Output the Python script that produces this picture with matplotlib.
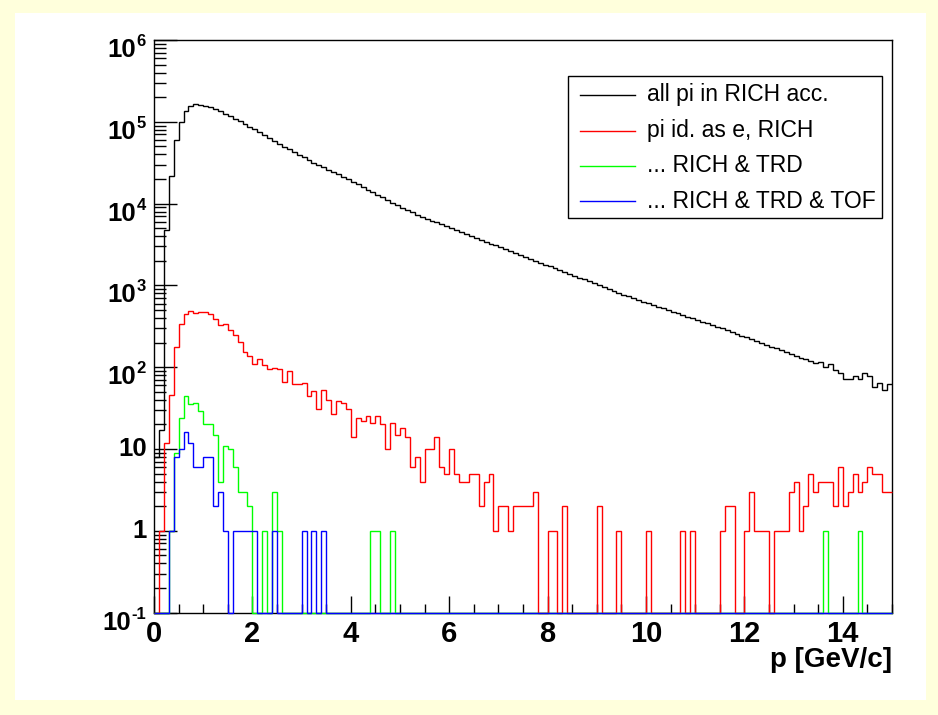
import numpy as np
import matplotlib
matplotlib.use("Agg")
import matplotlib.pyplot as plt
from matplotlib.patches import Rectangle
from matplotlib.lines import Line2D
from matplotlib.ticker import FixedLocator, NullFormatter, LogLocator

plt.rcParams['font.family'] = ['Liberation Sans', 'DejaVu Sans']

# ---------------- data (150 bins, 0 .. 15 GeV/c) ----------------
p_min, p_max, n_bins = 0.0, 15.0, 150

all_pi = [
    8, 17, 4750, 21700, 60000, 100000, 137000, 156000, 164000, 162000,
    157000, 150000, 142000, 134000, 125600, 117400, 109400, 101700, 94500, 87600,
    81000, 74800, 69000, 63600, 58600, 54000, 49750, 45860, 42380, 39280,
    36610, 34120, 31800, 29730, 27790, 25970, 24280, 22690, 21270, 19930,
    18520, 17210, 16000, 14870, 13820, 12850, 11940, 11100, 10310, 9590,
    8940, 8330, 7790, 7280, 6900, 6540, 6200, 5875, 5553, 5263,
    4989, 4729, 4482, 4249, 4028, 3818, 3620, 3430, 3252, 3083,
    2922, 2770, 2618, 2482, 2353, 2230, 2114, 2004, 1894, 1796,
    1708, 1618, 1534, 1458, 1382, 1310, 1245, 1181, 1119, 1064,
    1009, 956, 909, 861, 817, 774, 734, 696, 663, 634,
    604, 576, 551, 525, 500, 478, 456, 435, 416, 396,
    378, 361, 344, 328, 313, 299, 284, 269, 256, 243,
    231, 219, 208, 198, 188, 179, 170, 161, 153, 145,
    138, 131, 125, 118, 112, 115, 101, 108, 92, 84,
    72, 71, 77, 71, 84, 77, 58, 65, 53, 62,
]

pi_as_e_rich = [
    0, 1, 12, 46, 175, 334, 443, 491, 460, 477,
    469, 443, 385, 328, 340, 285, 245, 205, 153, 137,
    109, 125, 105, 94, 97, 94, 66, 90, 62, 62,
    65, 44, 51, 31, 53, 40, 27, 39, 36, 31,
    14, 24, 22, 25, 21, 25, 20, 10, 21, 15,
    18, 14, 6, 8, 4, 10, 10, 14, 6, 5,
    10, 5, 4, 4, 5, 5, 2, 4, 5, 1,
    2, 2, 1, 2, 2, 2, 2, 3, 0, 0,
    1, 1, 0, 2, 0, 0, 0, 0, 0, 0,
    2, 0, 0, 0, 1, 0, 0, 0, 0, 0,
    1, 0, 0, 0, 0, 0, 0, 1, 0, 1,
    0, 0, 0, 0, 0, 1, 2, 2, 0, 0,
    1, 3, 1, 1, 1, 0, 1, 1, 1, 3,
    4, 1, 2, 5, 3, 4, 4, 4, 2, 6,
    2, 3, 5, 3, 4, 6, 5, 5, 3, 3,
]

rich_trd = [
    0, 0, 0, 1, 9, 24, 44, 35, 36, 29,
    20, 20, 15, 4, 11, 10, 6, 3, 3, 2,
    0, 0, 1, 0, 3, 1, 0, 0, 0, 0,
    0, 0, 0, 0, 0, 0, 0, 0, 0, 0,
    0, 0, 0, 0, 1, 1, 0, 0, 1, 0,
    0, 0, 0, 0, 0, 0, 0, 0, 0, 0,
    0, 0, 0, 0, 0, 0, 0, 0, 0, 0,
    0, 0, 0, 0, 0, 0, 0, 0, 0, 0,
    0, 0, 0, 0, 0, 0, 0, 0, 0, 0,
    0, 0, 0, 0, 0, 0, 0, 0, 0, 0,
    0, 0, 0, 0, 0, 0, 0, 0, 0, 0,
    0, 0, 0, 0, 0, 0, 0, 0, 0, 0,
    0, 0, 0, 0, 0, 0, 0, 0, 0, 0,
    0, 0, 0, 0, 0, 0, 1, 0, 0, 0,
    0, 0, 0, 1, 0, 0, 0, 0, 0, 0,
]

rich_trd_tof = [
    0, 0, 0, 1, 8, 10, 16, 12, 6, 6,
    8, 8, 2, 3, 1, 0, 1, 1, 1, 1,
    1, 0, 0, 0, 1, 0, 0, 0, 0, 0,
    1, 0, 1, 0, 1, 0, 0, 0, 0, 0,
    0, 0, 0, 0, 0, 0, 0, 0, 0, 0,
    0, 0, 0, 0, 0, 0, 0, 0, 0, 0,
    0, 0, 0, 0, 0, 0, 0, 0, 0, 0,
    0, 0, 0, 0, 0, 0, 0, 0, 0, 0,
    0, 0, 0, 0, 0, 0, 0, 0, 0, 0,
    0, 0, 0, 0, 0, 0, 0, 0, 0, 0,
    0, 0, 0, 0, 0, 0, 0, 0, 0, 0,
    0, 0, 0, 0, 0, 0, 0, 0, 0, 0,
    0, 0, 0, 0, 0, 0, 0, 0, 0, 0,
    0, 0, 0, 0, 0, 0, 0, 0, 0, 0,
    0, 0, 0, 0, 0, 0, 0, 0, 0, 0,
]

series_labels = ["all pi in RICH acc.", "pi id. as e, RICH",
                 "... RICH & TRD", "... RICH & TRD & TOF"]
series_colors = ["#000000", "#ff0000", "#00ff00", "#0000ff"]

x_ticks = [0, 2, 4, 6, 8, 10, 12, 14]
x_tick_labels = ["0", "2", "4", "6", "8", "10", "12", "14"]
y_ticks = [0.1, 1, 10, 100, 1e3, 1e4, 1e5, 1e6]
y_tick_bases = ["10", "1", "10", "10", "10", "10", "10", "10"]
y_tick_exps = ["-1", "", "", "2", "3", "4", "5", "6"]
x_label = "p [GeV/c]"
y_range = (0.1, 1e6)

# ---------------- figure ----------------
W, H = 938, 715
fig = plt.figure(figsize=(W / 100, H / 100), dpi=100)
fig.patch.set_facecolor("#ffffdc")
fig.add_artist(Rectangle((15 / W, 1 - 700 / H), (926 - 15) / W, (700 - 13) / H,
                         transform=fig.transFigure, facecolor="white",
                         edgecolor="none", zorder=0))

ax = fig.add_axes([154 / W, 1 - 612.6 / H, (892 - 154) / W, (612.6 - 40) / H])
ax.set_facecolor("white")
ax.set_yscale("log")
ax.set_xlim(p_min, p_max)
ax.set_ylim(*y_range)

edges = np.linspace(p_min, p_max, n_bins + 1)
for vals, col in zip([all_pi, pi_as_e_rich, rich_trd, rich_trd_tof], series_colors):
    v = np.asarray(vals, dtype=float)
    v = np.where(v > 0, v, y_range[0])
    ax.stairs(v, edges, baseline=None, color=col, lw=1.0, zorder=3, clip_on=False)

for s in ax.spines.values():
    s.set_color("black")
    s.set_linewidth(1.0)
    s.set_zorder(2)

# x ticks
ax.xaxis.set_major_locator(FixedLocator(x_ticks))
ax.xaxis.set_minor_locator(FixedLocator(np.arange(p_min, p_max + 1e-9, 0.5)))
ax.set_xticklabels(x_tick_labels, fontsize=21, fontweight="bold")
ax.tick_params(axis="x", which="major", direction="in", length=12, width=1,
               top=False, pad=5)
ax.tick_params(axis="x", which="minor", direction="in", length=6.5, width=1,
               top=False)
# y ticks
ax.yaxis.set_major_locator(FixedLocator(y_ticks))
ax.yaxis.set_minor_locator(LogLocator(base=10, subs=np.arange(2, 10)))
ax.yaxis.set_major_formatter(NullFormatter())
ax.yaxis.set_minor_formatter(NullFormatter())
ax.tick_params(axis="y", which="major", direction="in", length=16.5, width=1,
               right=False)
ax.tick_params(axis="y", which="minor", direction="in", length=8.5, width=1,
               right=False)

# y tick labels composed as ROOT does: "10" with raised exponent
renderer = fig.canvas.get_renderer()
base_fs, exp_fs = 18.5, 12
for val, base, ex in zip(y_ticks, y_tick_bases, y_tick_exps):
    if ex:
        te = ax.annotate(ex, xy=(0, val), xycoords=("axes fraction", "data"),
                         xytext=(-8, 6), textcoords="offset pixels",
                         ha="right", va="top", fontsize=exp_fs, fontweight="bold")
        w = te.get_window_extent(renderer=renderer).width
        ax.annotate(base, xy=(0, val), xycoords=("axes fraction", "data"),
                    xytext=(-8 - w - 0.5, 2), textcoords="offset pixels",
                    ha="right", va="top", fontsize=base_fs, fontweight="bold")
    else:
        ax.annotate(base, xy=(0, val), xycoords=("axes fraction", "data"),
                    xytext=(-7, 0), textcoords="offset pixels",
                    ha="right", va="center", fontsize=base_fs, fontweight="bold")

fig.text(892 / W, 1 - 660 / H, x_label, ha="right", va="center",
         fontsize=20, fontweight="bold")

# legend box
lx0, ly0, lx1, ly1 = 568, 76, 882, 218
fig.add_artist(Rectangle((lx0 / W, 1 - ly1 / H), (lx1 - lx0) / W, (ly1 - ly0) / H,
                         transform=fig.transFigure, facecolor="white",
                         edgecolor="black", lw=1.0, zorder=5))
rows = [95, 130.5, 166, 201]
for yrow, lab, col in zip(rows, series_labels, series_colors):
    fig.add_artist(Line2D([580 / W, 635 / W], [1 - yrow / H, 1 - yrow / H],
                          transform=fig.transFigure, color=col, lw=1.0, zorder=6))
    fig.text(647 / W, 1 - yrow / H, lab, ha="left", va="center",
             fontsize=16.5, zorder=7)

fig.savefig("out.png", dpi=100, facecolor=fig.get_facecolor())
